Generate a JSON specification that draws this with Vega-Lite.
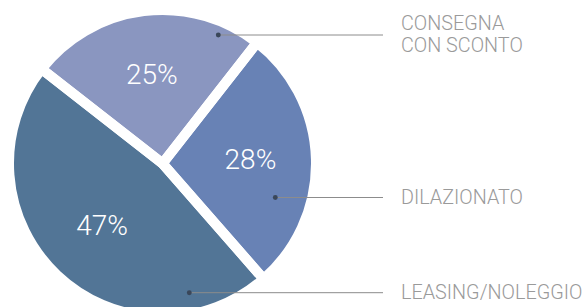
{
  "$schema": "https://vega.github.io/schema/vega-lite/v6.json",
  "width": 585,
  "height": 307,
  "autosize": {"type": "none"},
  "padding": 0,
  "background": "white",
  "config": {"view": {"stroke": null}},
  "layer": [
    {
      "data": {"values": [
        {"category": "CONSEGNA CON SCONTO", "value": 25, "label": "25%"},
        {"category": "DILAZIONATO", "value": 28, "label": "28%"},
        {"category": "LEASING/NOLEGGIO", "value": 47, "label": "47%"}
      ]},
      "encoding": {
        "theta": {"field": "value", "type": "quantitative", "stack": true, "scale": {"range": [-0.9076, 5.3756]}},
        "order": {"field": "value", "type": "quantitative", "sort": "ascending"}
      },
      "layer": [
        {
          "mark": {"type": "arc", "outerRadius": 153.5, "x": 162.5, "y": 163.5},
          "encoding": {
            "color": {"field": "category", "type": "nominal", "legend": null,
              "scale": {"domain": ["CONSEGNA CON SCONTO", "DILAZIONATO", "LEASING/NOLEGGIO"], "range": ["#8a96c0", "#6882b5", "#527596"]}}
          }
        },
        {
          "mark": {"type": "arc", "outerRadius": 153.5, "x": 162.5, "y": 163.5, "fillOpacity": 0, "stroke": "white", "strokeWidth": 10, "strokeJoin": "miter"},
          "encoding": {}
        },
        {
          "mark": {"type": "text", "radius": 88, "x": 162.5, "y": 163.5, "fill": "white", "font": "Roboto", "fontWeight": 300, "fontSize": 28, "baseline": "middle", "align": "center"},
          "encoding": {"text": {"field": "label", "type": "nominal"}}
        }
      ]
    },
    {
      "data": {"values": [
        {"name": ["CONSEGNA", "CON SCONTO"], "dotX": 218.3, "dotY": 35, "endX": 383, "textX": 401, "textY": 24.4},
        {"name": ["DILAZIONATO"], "dotX": 275.3, "dotY": 197.5, "endX": 383, "textX": 401, "textY": 198.3},
        {"name": ["LEASING/NOLEGGIO"], "dotX": 189.3, "dotY": 292.7, "endX": 383, "textX": 401, "textY": 292.7}
      ]},
      "layer": [
        {
          "mark": {"type": "rule", "stroke": "#8c8c8c", "strokeWidth": 1},
          "encoding": {
            "x": {"field": "dotX", "type": "quantitative", "axis": null, "scale": {"domain": [0, 585], "range": [0, 585], "nice": false, "zero": false}},
            "x2": {"field": "endX"},
            "y": {"field": "dotY", "type": "quantitative", "axis": null, "scale": {"domain": [0, 307], "range": [0, 307], "nice": false, "zero": false}}
          }
        },
        {
          "mark": {"type": "circle", "size": 24, "fill": "#3a475a", "opacity": 1},
          "encoding": {
            "x": {"field": "dotX", "type": "quantitative"},
            "y": {"field": "dotY", "type": "quantitative"}
          }
        },
        {
          "mark": {"type": "text", "align": "left", "baseline": "middle", "font": "Roboto", "fontWeight": 300, "fontSize": 19.8, "lineHeight": 21.3, "fill": "#9a9a9a"},
          "encoding": {
            "x": {"field": "textX", "type": "quantitative"},
            "y": {"field": "textY", "type": "quantitative"},
            "text": {"field": "name"}
          }
        }
      ]
    }
  ]
}
